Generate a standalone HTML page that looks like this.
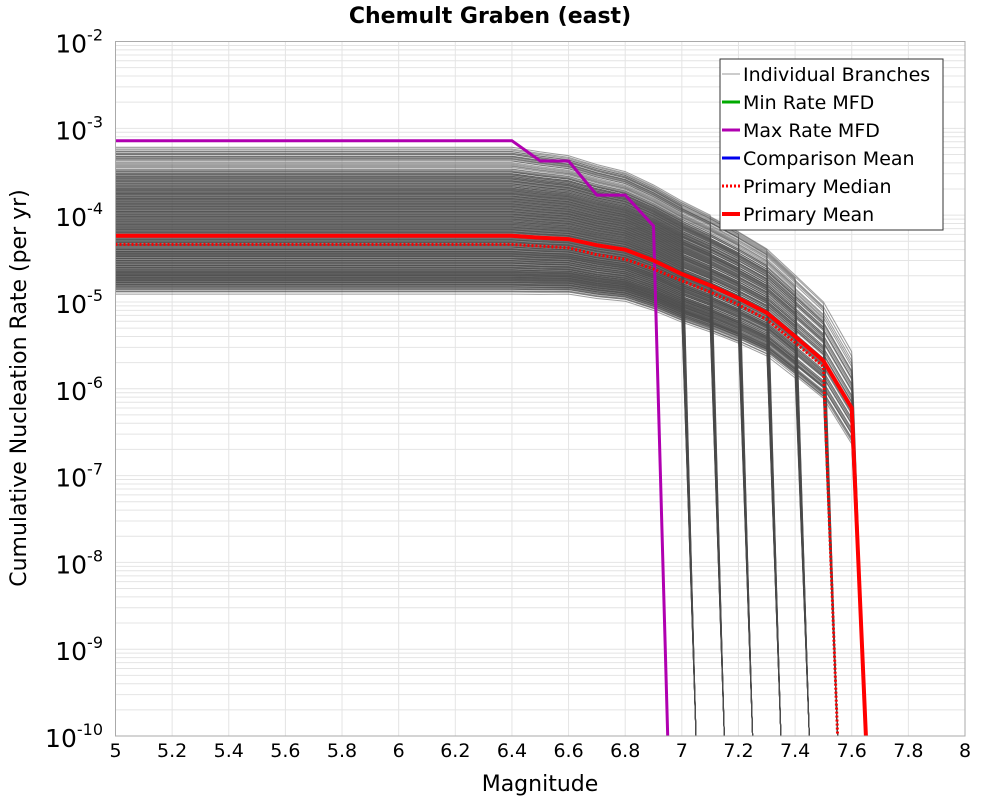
<!DOCTYPE html>
<html><head><meta charset="utf-8"><style>
body{margin:0;background:#fff;font-family:"Liberation Sans","DejaVu Sans",sans-serif}
</style></head><body>
<svg id="chart" width="1000" height="800" xmlns="http://www.w3.org/2000/svg" font-family="DejaVu Sans, Liberation Sans, sans-serif">
<text x="490" y="23" text-anchor="middle" font-size="22" font-weight="bold">Chemult Graben (east)</text>
<text x="540" y="791" text-anchor="middle" font-size="22">Magnitude</text>
<text transform="translate(26,388) rotate(-90)" text-anchor="middle" font-size="22">Cumulative Nucleation Rate (per yr)</text>
<g id="grid"></g><g id="branches"></g><g id="main"></g><g id="axes"></g><g id="legend"></g>
</svg>
<script>
const xTicks=[5,5.2,5.4,5.6,5.8,6,6.2,6.4,6.6,6.8,7,7.2,7.4,7.6,7.8,8];
const yExps=[-2,-3,-4,-5,-6,-7,-8,-9,-10];
const meanMags=[5,6.4,6.5,6.6,6.7,6.8,6.9,7.0,7.1,7.2,7.3,7.4,7.5,7.6,7.65];
const meanRates=[5.8e-5,5.8e-5,5.5e-5,5.3e-5,4.5e-5,4e-5,3e-5,2.1e-5,1.55e-5,1.1e-5,7.5e-6,4e-6,2.1e-6,6e-7,1e-10];
const medianMags=[5,6.4,6.5,6.6,6.7,6.8,6.9,7.0,7.1,7.2,7.3,7.4,7.5,7.55];
const medianRates=[4.6e-5,4.6e-5,4.4e-5,4.2e-5,3.5e-5,3.1e-5,2.4e-5,1.75e-5,1.3e-5,9.3e-6,6.3e-6,3.4e-6,1.8e-6,1e-10];
const maxMags=[5,6.4,6.5,6.6,6.7,6.8,6.9,6.95];
const maxRates=[7.2e-4,7.2e-4,4.2e-4,4.2e-4,1.7e-4,1.7e-4,7.5e-5,1e-10];
const branchPlateaus=[1.4e-5,1.5e-5,1.6e-5,1.7e-5,1.8e-5,1.9e-5,2e-5,2.1e-5,2.2e-5,2.35e-5,2.5e-5,2.65e-5,2.8e-5,3e-5,3.2e-5,3.4e-5,3.6e-5,3.8e-5,4e-5,4.3e-5,4.6e-5,4.9e-5,5.2e-5,5.6e-5,6e-5,6.4e-5,6.8e-5,7.3e-5,7.8e-5,8.4e-5,9e-5,9.6e-5,1.03e-4,1.1e-4,1.18e-4,1.26e-4,1.35e-4,1.45e-4,1.55e-4,1.66e-4,1.78e-4,1.9e-4,2.05e-4,2.2e-4,2.4e-4,2.6e-4,2.8e-4,3e-4,3.4e-4,4.2e-4,4.8e-4,5.4e-4];
const branchCutoffs=[7.05,7.15,7.25,7.35,7.45,7.55,7.65];
const cutoffScale=[1,1.07,0.93,1.12,0.88,1.04,0.96];
const X0=115.5,X1=965,Y0=41.5,Y1=736;
const xs=m=>X0+(m-5)/3*(X1-X0);
const ys=r=>Y0+(-2-Math.log10(r))/8*(Y1-Y0);
const NS="http://www.w3.org/2000/svg";
function mk(p,t,a){const e=document.createElementNS(NS,t);for(const k in a)e.setAttribute(k,a[k]);p.appendChild(e);return e;}
const grid=document.getElementById('grid');
mk(grid,'rect',{x:X0,y:Y0,width:X1-X0,height:Y1-Y0,fill:'#fff',stroke:'none'});
for(let e=-10;e<-2;e++)for(let k=1;k<10;k++){const y=ys(k*Math.pow(10,e));mk(grid,'line',{x1:X0,x2:X1,y1:y,y2:y,stroke:'#e4e4e4','stroke-width':1});}
xTicks.forEach(t=>{mk(grid,'line',{x1:xs(t),x2:xs(t),y1:Y0,y2:Y1,stroke:'#e4e4e4','stroke-width':1});});
const pts=(ms,rs)=>ms.map((m,i)=>xs(m).toFixed(1)+','+ys(rs[i]).toFixed(1)).join(' ');
const bg=document.getElementById('branches');
branchPlateaus.forEach((p0,pi)=>{branchCutoffs.forEach((c,ci)=>{
  const p=p0*cutoffScale[(ci+pi)%cutoffScale.length];
  const ms=[],rs=[];
  for(let i=0;i<meanMags.length-1;i++){const m=meanMags[i];if(m>=c-0.001)break;
    let r=meanRates[i]/meanRates[0]*p; if(m>6.4){const lift=Math.pow(meanRates[0]/p,0.35*(m-6.4)/1.2);r*=lift;} ms.push(m);rs.push(r);}
  const last=rs[rs.length-1];ms.push(c-0.05);rs.push(last);ms.push(c);rs.push(1e-10);
  const l=mk(bg,'polyline',{points:pts(ms,rs),fill:'none',stroke:'#4d4d4d','stroke-width':1,'stroke-opacity':0.55});
  
  
});});
const mg=document.getElementById('main');
mk(mg,'polyline',{points:pts(maxMags,maxRates),fill:'none',stroke:'#b000b0','stroke-width':3,});
mk(mg,'polyline',{points:pts(medianMags,medianRates),fill:'none',stroke:'#f00','stroke-width':3,'stroke-dasharray':'2,2',});
mk(mg,'polyline',{points:pts(meanMags,meanRates),fill:'none',stroke:'#f00','stroke-width':4,});
const ax=document.getElementById('axes');
mk(ax,'rect',{x:X0,y:Y0,width:X1-X0,height:Y1-Y0,fill:'none',stroke:'#aaa','stroke-width':1,});
xTicks.forEach(t=>{const tx=mk(ax,'text',{x:xs(t),y:757,'text-anchor':'middle','font-size':19});tx.textContent=String(t);
 });
yExps.forEach(e=>{const tx=mk(ax,'text',{x:103,y:ys(Math.pow(10,e))+11,'text-anchor':'end','font-size':25});
 
 tx.appendChild(document.createTextNode('10'));const s=mk(tx,'tspan',{dy:-12,'font-size':16});s.textContent=String(e);});
const lg=document.getElementById('legend');
mk(lg,'rect',{x:720,y:59,width:223,height:171,fill:'#fff',stroke:'#333','stroke-width':1,});
const items=[['Individual Branches','#999',1,null],['Min Rate MFD','#00aa00',3,null],['Max Rate MFD','#b000b0',3,null],['Comparison Mean','#0000ee',3,null],[' Primary Median','#f00',3,'2,2'],['Primary Mean','#f00',4,null]];
items.forEach((it,i)=>{const y=74+i*28;
 const a={x1:722,x2:740,y1:y,y2:y,stroke:it[1],'stroke-width':it[2]};if(it[3])a['stroke-dasharray']=it[3];
 mk(lg,'line',a);
 const t=mk(lg,'text',{x:743,y:y+7,'font-size':19});t.textContent=it[0];
 });
</script>
</body></html>
